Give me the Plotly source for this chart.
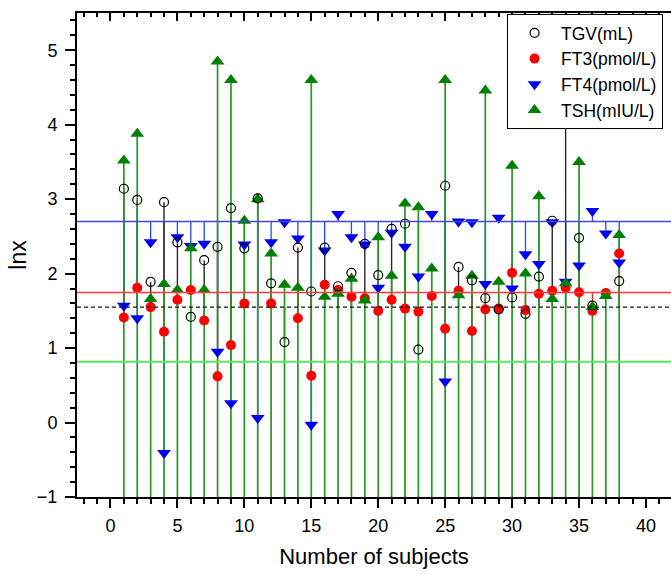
import plotly.graph_objects as go

subjects = list(range(1, 39))

tgv = [3.14, 2.99, 1.89, 2.96, 2.42, 1.42, 2.18, 2.36, 2.88, 2.34,
       3.01, 1.87, 1.08, 2.35, 1.76, 2.35, 1.83, 2.01, 2.40, 1.98,
       2.60, 2.67, 0.98, None, 3.18, 2.09, 1.91, 1.67, 1.52, 1.68,
       1.46, 1.96, 2.71, 4.04, 2.48, 1.57, None, 1.90]
ft3 = [1.41, 1.81, 1.55, 1.22, 1.65, 1.78, 1.37, 0.62, 1.04, 1.60,
       None, 1.60, None, 1.40, 0.63, 1.85, 1.78, 1.69, 1.67, 1.50,
       1.65, 1.53, 1.49, 1.70, 1.26, 1.77, 1.23, 1.52, 1.53, 2.01,
       1.51, 1.73, 1.77, 1.81, 1.75, 1.50, 1.74, 2.27]
ft4 = [1.57, 1.40, 2.42, -0.41, 2.49, 2.37, 2.40, 0.95, 0.26, 2.39,
       0.06, 2.42, 2.69, 2.47, -0.03, 2.31, 2.80, 2.49, 2.39, 1.81,
       2.55, 2.36, 1.96, 2.80, 0.55, 2.70, 2.69, 1.86, 2.75, 1.80,
       2.26, 2.13, 2.69, 1.89, 2.11, 2.84, 2.54, 2.15]
tsh = [3.52, 3.88, 1.66, 1.86, 1.78, 2.34, 1.78, 4.85, 4.60, 2.71,
       3.00, 2.27, 1.85, 1.81, 4.60, 1.69, 1.73, 1.93, 1.64, 2.49,
       1.97, 2.94, 2.89, 2.07, 4.60, 1.71, 1.97, 4.46, 1.89, 3.45,
       2.00, 3.04, 1.66, 1.87, 3.50, 1.55, 1.70, 2.52]

# reference (mean) lines
tgv_ref = 1.55
ft3_ref = 1.745
ft4_ref = 2.70
tsh_ref = 0.815
y_min = -1.0

names = ["TGV(mL)", "FT3(pmol/L)", "FT4(pmol/L)", "TSH(mIU/L)"]

FONT = "Liberation Sans, Arial, sans-serif"


def stems(vals, base):
    xs, ys = [], []
    for s, v in zip(subjects, vals):
        if v is None:
            continue
        xs += [s, s, None]
        ys += [base, v, None]
    return xs, ys


fig = go.Figure()

# stems (green drop lines drawn last so they sit on top)
for vals, base, col, w in [
    (ft4, ft4_ref, "rgb(40,70,255)", 1.3),
    (tgv, tgv_ref, "rgb(40,40,40)", 1.4),
    (ft3, ft3_ref, "rgb(255,40,40)", 1.3),
    (tsh, y_min, "rgb(40,150,40)", 1.7),
]:
    xs, ys = stems(vals, base)
    fig.add_trace(go.Scatter(x=xs, y=ys, mode="lines",
                             line=dict(color=col, width=w),
                             showlegend=False, hoverinfo="skip"))

# reference lines
for val, col, w, dash in [
    (ft4_ref, "rgb(70,70,210)", 1.5, "solid"),
    (ft3_ref, "rgb(255,60,60)", 1.5, "solid"),
    (tgv_ref, "rgb(20,20,20)", 1.3, "4px,3px"),
    (tsh_ref, "rgb(90,230,90)", 2, "solid"),
]:
    fig.add_shape(type="line", xref="paper", x0=0, x1=1, yref="y", y0=val, y1=val,
                  line=dict(color=col, width=w, dash=dash), layer="above")

# markers
fig.add_trace(go.Scatter(x=subjects, y=ft3, mode="markers", name=names[1], legendrank=2,
                         marker=dict(symbol="circle", size=10, color="rgb(255,0,0)",
                                     line=dict(width=0))))
fig.add_trace(go.Scatter(x=subjects, y=ft4, mode="markers", name=names[2], legendrank=3,
                         marker=dict(symbol="triangle-down", size=12, color="rgb(0,0,240)",
                                     line=dict(width=0))))
fig.add_trace(go.Scatter(x=subjects, y=tsh, mode="markers", name=names[3], legendrank=4,
                         marker=dict(symbol="triangle-up", size=12, color="rgb(0,128,0)",
                                     line=dict(width=0))))
fig.add_trace(go.Scatter(x=subjects, y=tgv, mode="markers", name=names[0], legendrank=1,
                         marker=dict(symbol="circle-open", size=9, color="black",
                                     line=dict(width=1.2, color="black"))))

# helper trace to make top axis render
fig.add_trace(go.Scatter(x=[0], y=[-10], xaxis="x2", yaxis="y", mode="markers",
                         marker=dict(opacity=0), showlegend=False, hoverinfo="skip"))

xr = [-2.5, 41.87]

fig.update_layout(
    width=671, height=574,
    margin=dict(l=77, r=0, t=13, b=77),
    paper_bgcolor="white", plot_bgcolor="white",
    font=dict(family=FONT, color="black", size=17),
    xaxis=dict(range=xr, tick0=0, dtick=5, ticks="outside", ticklen=9, tickwidth=2,
               tickcolor="black", showline=True, linewidth=2, linecolor="black",
               showgrid=False, zeroline=False,
               minor=dict(dtick=1, tick0=0, ticks="outside", ticklen=5, tickwidth=1.5,
                          tickcolor="black", showgrid=False),
               tickfont=dict(size=18), ticklabelstandoff=2,
               title=dict(text="Number of subjects", font=dict(size=22), standoff=14)),
    xaxis2=dict(range=xr, overlaying="x", side="top", tick0=0, dtick=5, ticks="inside",
                ticklen=8, tickwidth=2, tickcolor="black", showline=True, linewidth=2,
                linecolor="black", showgrid=False, zeroline=False, showticklabels=False,
                minor=dict(dtick=1, tick0=0, ticks="inside", ticklen=4, tickwidth=1.5,
                           tickcolor="black", showgrid=False)),
    yaxis=dict(range=[-1, 5.5], tick0=0, dtick=1, ticks="outside", ticklen=10, tickwidth=2,
               tickcolor="black", showline=True, linewidth=2, linecolor="black",
               showgrid=False, zeroline=False,
               minor=dict(dtick=0.2, tick0=0, ticks="outside", ticklen=5, tickwidth=1.5,
                          tickcolor="black", showgrid=False),
               tickfont=dict(size=18), ticklabelstandoff=4,
               title=dict(text="lnx", font=dict(size=23), standoff=4)),
    legend=dict(x=0.724, y=0.998, xanchor="left", yanchor="top",
                bgcolor="white", bordercolor="black", borderwidth=1,
                font=dict(size=17.5, family=FONT), tracegroupgap=0, itemwidth=43),
    showlegend=True,
)

fig.write_html("out.html")
